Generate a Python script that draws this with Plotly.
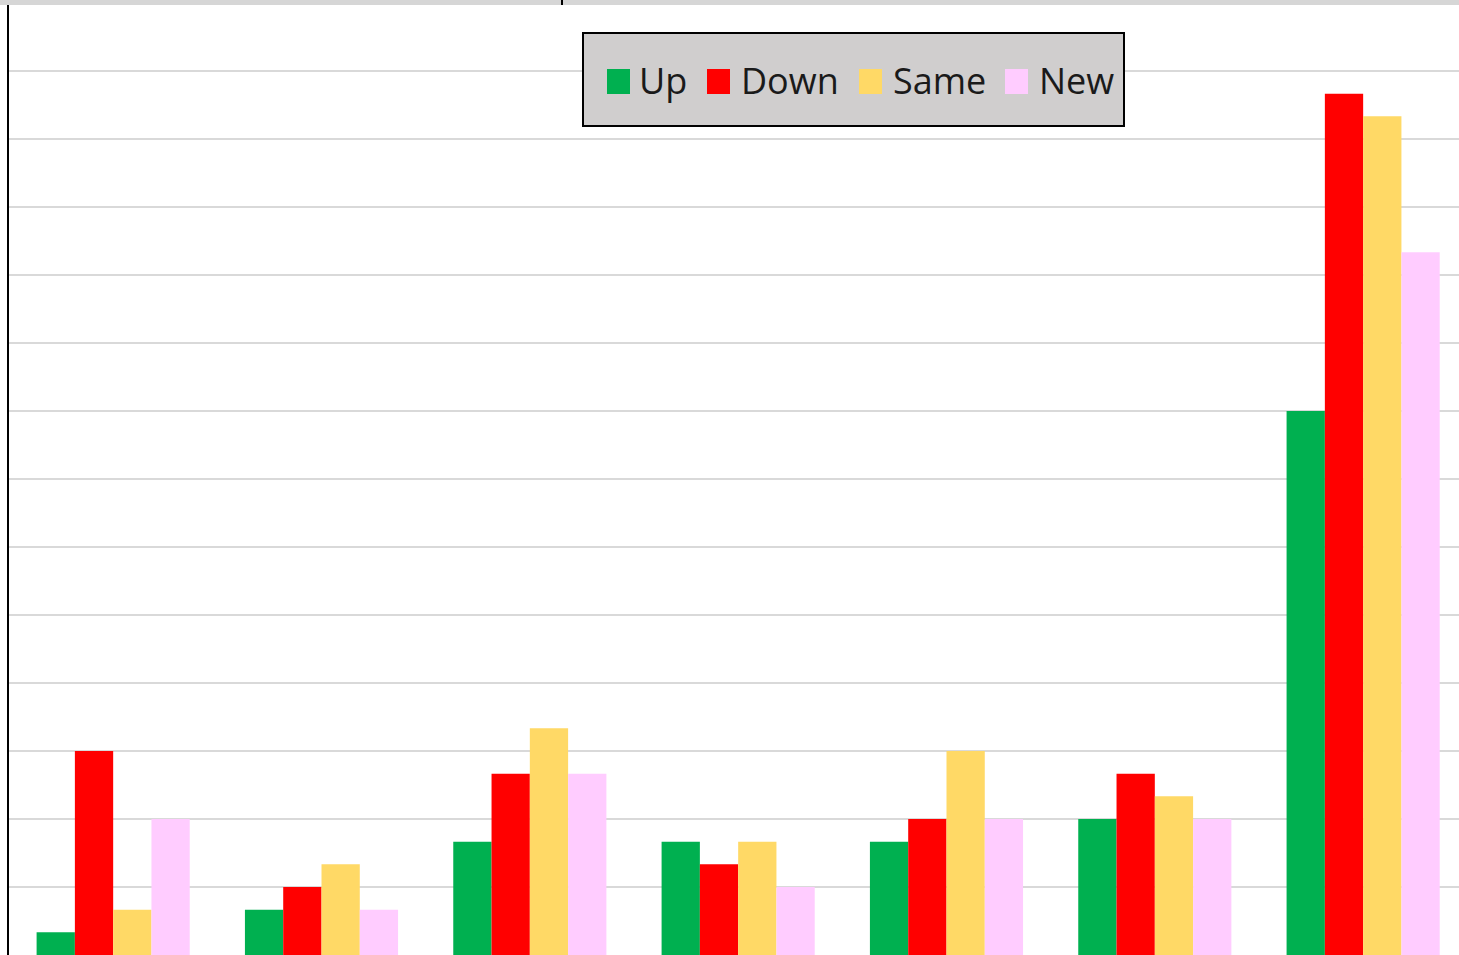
import plotly.graph_objects as go

categories = ["A", "B", "C", "D", "E", "F", "G"]
series_names = ["Up", "Down", "Same", "New"]
up = [1, 2, 5, 5, 5, 6, 24]
down = [9, 3, 8, 4, 6, 8, 38]
same = [2, 4, 10, 5, 9, 7, 37]
new = [6, 2, 8, 3, 6, 6, 31]
colors = ["#00b050", "#ff0000", "#ffd966", "#ffccff"]

W, H = 1459, 955
ml, mr, mt, mb = 9, 0, 5, 0
plot_w = W - ml - mr
plot_h = H - mt - mb
cat_px = 208.33
unit_px = 68.0 / 3.0


def px(x):
    return (x - ml) / plot_w


def py(y):
    return (H - mb - y) / plot_h


fig = go.Figure()
for name, vals, col in zip(series_names, [up, down, same, new], colors):
    fig.add_trace(go.Bar(x=categories, y=vals, name=name, showlegend=False,
                         marker=dict(color=col, line=dict(width=0))))

shapes = [
    dict(type="rect", xref="paper", yref="paper", x0=-0.01, x1=1.01, y0=1.0, y1=py(-2),
         fillcolor="#d6d6d6", line=dict(width=0), layer="above"),
    dict(type="line", xref="paper", yref="paper", x0=px(562), x1=px(562),
         y0=1.0, y1=py(-2), line=dict(color="#000000", width=2)),
    # legend box
    dict(type="rect", xref="paper", yref="paper", x0=px(583), x1=px(1124), y0=py(126), y1=py(33),
         fillcolor="#d0cece", line=dict(color="#000000", width=2), layer="above"),
]
annotations = []
swatch_x = [607, 707, 859, 1005]
text_x = [637, 739, 891, 1037]
for name, col, sx, tx in zip(series_names, colors, swatch_x, text_x):
    shapes.append(dict(type="rect", xref="paper", yref="paper", x0=px(sx), x1=px(sx + 23),
                       y0=py(94), y1=py(69), fillcolor=col, line=dict(width=0), layer="above"))
    annotations.append(dict(text=name, xref="paper", yref="paper", x=px(tx), y=py(81),
                            xanchor="left", yanchor="middle", showarrow=False,
                            font=dict(family="Open Sans, Liberation Sans, sans-serif", size=36,
                                      color="#1a1a1a")))

fig.update_layout(
    width=W, height=H,
    margin=dict(l=ml, r=mr, t=mt, b=mb, pad=0),
    paper_bgcolor="white", plot_bgcolor="white",
    barmode="group", bargap=0.265, bargroupgap=0,
    showlegend=False,
    xaxis=dict(
        range=[-0.5, -0.5 + plot_w / cat_px], showticklabels=False, ticks="",
        showgrid=False, showline=True, linecolor="#bfbfbf", linewidth=2, zeroline=False,
    ),
    yaxis=dict(
        range=[0, plot_h / unit_px], dtick=3, tick0=0, showticklabels=False, ticks="",
        showgrid=True, gridcolor="#d9d9d9", gridwidth=2, zeroline=False,
        showline=True, linecolor="#000000", linewidth=2,
    ),
    shapes=shapes,
    annotations=annotations,
)

fig.write_html("out.html", config={"displayModeBar": False},
               post_script="document.body.style.margin='0';")
